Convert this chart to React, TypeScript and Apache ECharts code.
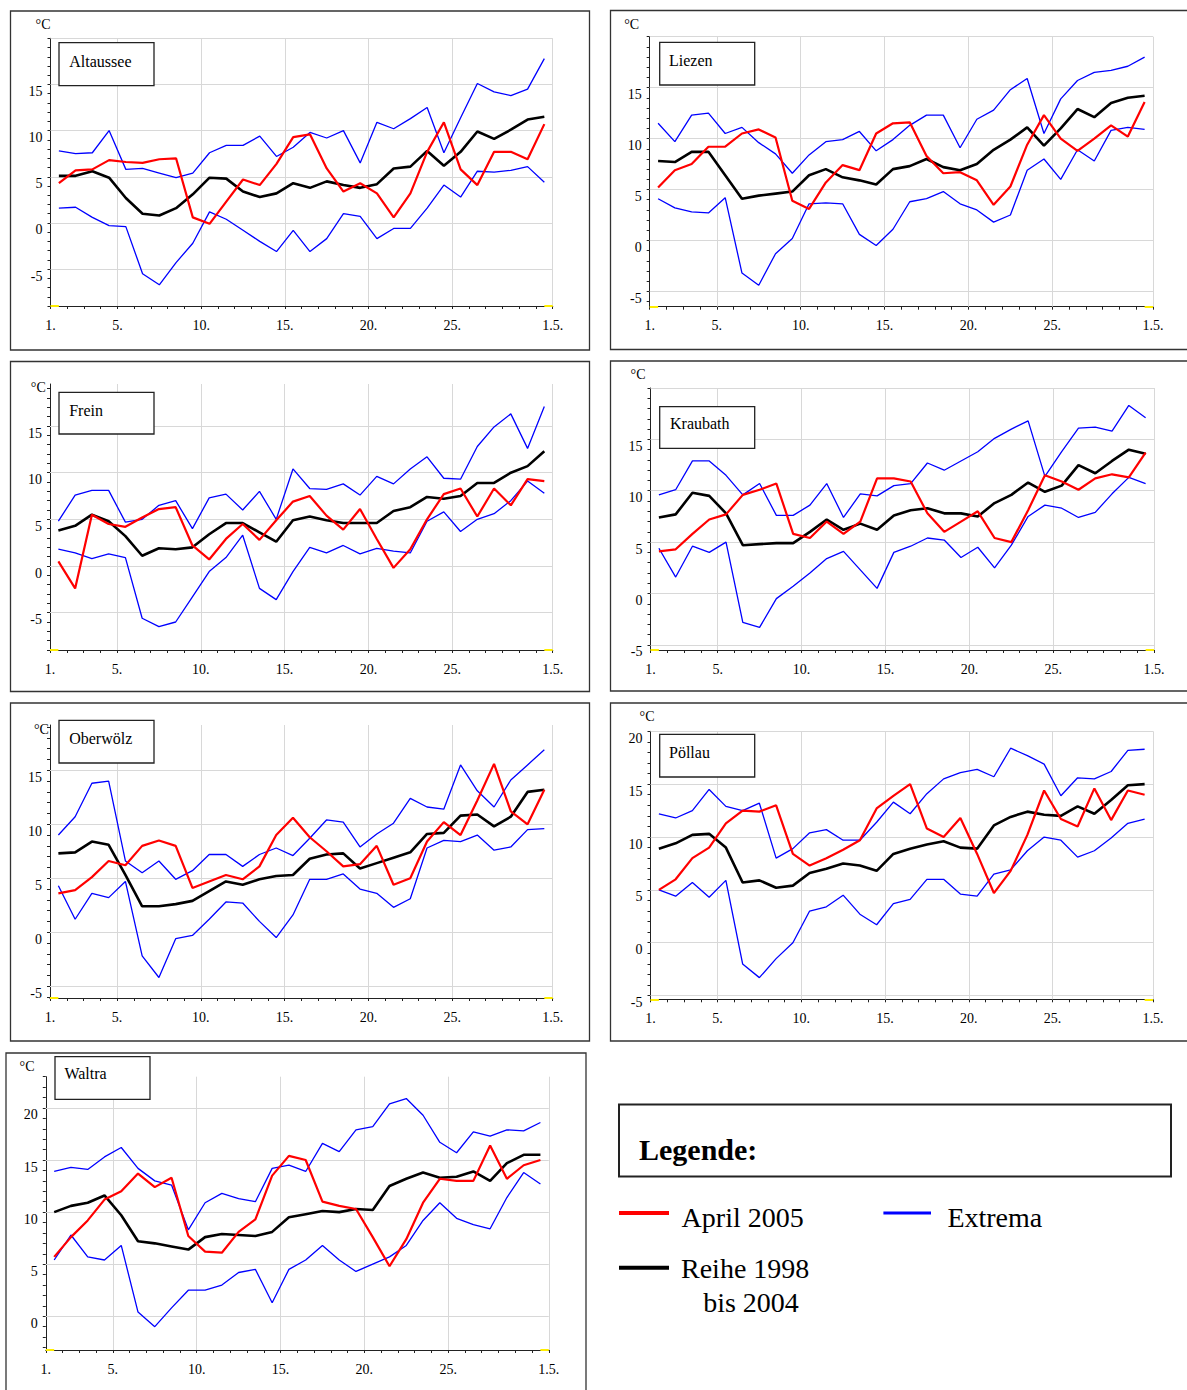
import React, { useEffect, useRef } from "react";
import * as echarts from "echarts";

// ---------- DATA ----------
const days = [1.5, 2.5, 3.5, 4.5, 5.5, 6.5, 7.5, 8.5, 9.5, 10.5, 11.5, 12.5, 13.5, 14.5, 15.5, 16.5, 17.5, 18.5, 19.5, 20.5, 21.5, 22.5, 23.5, 24.5, 25.5, 26.5, 27.5, 28.5, 29.5, 30.5];
const xTickValues = [1, 5, 10, 15, 20, 25, 31];
const xTickLabels = ["1.", "5.", "10.", "15.", "20.", "25.", "1.5."];
const stationNames = ["Altaussee", "Liezen", "Frein", "Kraubath", "Oberwölz", "Pöllau", "Waltra"];
const unitLabel = "°C";

const altausseeMax = [7.8, 7.5, 7.6, 10.0, 5.8, 5.9, 5.4, 4.9, 5.4, 7.6, 8.4, 8.4, 9.4, 7.2, 8.2, 9.8, 9.2, 10.0, 6.5, 10.9, 10.2, 11.3, 12.5, 7.6, 11.4, 15.1, 14.2, 13.8, 14.5, 17.8];
const altausseeMin = [1.6, 1.7, 0.6, -0.3, -0.4, -5.5, -6.7, -4.3, -2.2, 1.2, 0.4, -0.8, -2.0, -3.1, -0.8, -3.1, -1.7, 1.0, 0.7, -1.7, -0.6, -0.6, 1.6, 4.1, 2.8, 5.6, 5.5, 5.7, 6.1, 4.4];
const altausseeReihe = [5.1, 5.1, 5.6, 4.9, 2.7, 1.0, 0.8, 1.6, 3.1, 4.9, 4.8, 3.4, 2.8, 3.2, 4.3, 3.8, 4.5, 4.1, 3.8, 4.2, 5.9, 6.1, 7.8, 6.2, 7.7, 9.9, 9.1, 10.1, 11.2, 11.5];
const altausseeApril = [4.3, 5.7, 5.8, 6.8, 6.6, 6.5, 6.9, 7.0, 0.6, -0.1, 2.3, 4.7, 4.1, 6.4, 9.3, 9.6, 5.9, 3.4, 4.3, 3.2, 0.6, 3.2, 7.7, 10.9, 5.8, 4.1, 7.7, 7.7, 6.9, 10.7];

const liezenMax = [11.5, 9.7, 12.3, 12.5, 10.5, 11.1, 9.6, 8.5, 6.6, 8.4, 9.7, 9.9, 10.7, 8.8, 9.9, 11.3, 12.3, 12.3, 9.1, 11.9, 12.8, 14.8, 15.9, 10.5, 13.9, 15.7, 16.5, 16.7, 17.1, 18.0];
const liezenMin = [4.1, 3.2, 2.8, 2.7, 4.2, -3.2, -4.4, -1.3, 0.2, 3.6, 3.7, 3.6, 0.6, -0.5, 1.1, 3.8, 4.1, 4.8, 3.6, 3.0, 1.8, 2.5, 6.9, 8.0, 6.0, 8.9, 7.8, 10.8, 11.1, 10.9];
const liezenReihe = [7.8, 7.7, 8.7, 8.7, 6.4, 4.1, 4.4, 4.6, 4.8, 6.4, 7.0, 6.2, 5.9, 5.5, 7.0, 7.3, 8.0, 7.2, 6.9, 7.5, 8.9, 9.9, 11.1, 9.3, 11.0, 12.9, 12.1, 13.5, 14.0, 14.2];
const liezenApril = [5.2, 6.9, 7.5, 9.2, 9.2, 10.5, 10.9, 10.1, 3.9, 3.1, 5.7, 7.4, 6.9, 10.5, 11.5, 11.6, 8.3, 6.6, 6.7, 5.9, 3.5, 5.3, 9.4, 12.3, 10.0, 8.8, 10.0, 11.3, 10.2, 13.6];

const freinMax = [4.8, 7.6, 8.1, 8.1, 4.7, 5.0, 6.5, 7.0, 4.0, 7.3, 7.7, 6.0, 8.0, 5.0, 10.4, 8.3, 8.2, 8.8, 7.6, 9.6, 8.8, 10.4, 11.7, 9.4, 9.3, 12.8, 14.9, 16.3, 12.6, 17.1];
const freinMin = [1.8, 1.4, 0.8, 1.3, 0.9, -5.6, -6.5, -6.0, -3.3, -0.6, 0.9, 3.3, -2.4, -3.6, -0.6, 2.0, 1.4, 2.2, 1.3, 1.9, 1.6, 1.4, 4.8, 5.8, 3.7, 5.0, 5.6, 7.0, 9.1, 7.8];
const freinReihe = [3.8, 4.3, 5.5, 4.8, 3.2, 1.1, 1.9, 1.8, 2.0, 3.4, 4.6, 4.6, 3.6, 2.6, 4.9, 5.3, 4.9, 4.6, 4.6, 4.6, 5.9, 6.3, 7.4, 7.2, 7.5, 8.9, 8.9, 10.0, 10.7, 12.3];
const freinApril = [0.5, -2.4, 5.5, 4.5, 4.2, 5.2, 6.1, 6.3, 2.2, 0.7, 2.9, 4.5, 2.8, 4.9, 6.9, 7.5, 5.4, 3.9, 6.1, 2.9, -0.2, 1.8, 5.0, 7.7, 8.3, 5.3, 8.3, 6.5, 9.3, 9.1];

const kraubathMax = [9.6, 10.1, 12.9, 12.9, 11.5, 9.6, 10.7, 7.6, 7.6, 8.6, 10.7, 7.4, 9.7, 9.5, 10.5, 10.7, 12.7, 12.0, 12.9, 13.8, 15.1, 16.0, 16.8, 11.4, 13.8, 16.1, 16.2, 15.8, 18.3, 17.1];
const kraubathMin = [4.4, 1.6, 4.6, 4.0, 5.0, -2.8, -3.3, -0.5, 0.7, 2.0, 3.4, 4.1, 2.3, 0.5, 4.0, 4.6, 5.4, 5.2, 3.5, 4.5, 2.5, 4.7, 7.5, 8.6, 8.3, 7.4, 7.9, 9.7, 11.3, 10.7];
const kraubathReihe = [7.4, 7.7, 9.8, 9.5, 7.8, 4.7, 4.8, 4.9, 4.9, 6.0, 7.2, 6.2, 6.8, 6.2, 7.6, 8.1, 8.3, 7.8, 7.8, 7.5, 8.8, 9.6, 10.8, 9.9, 10.5, 12.5, 11.7, 12.9, 14.0, 13.6];
const kraubathApril = [4.1, 4.3, 5.8, 7.2, 7.7, 9.6, 10.1, 10.7, 5.8, 5.4, 7.0, 5.8, 7.0, 11.2, 11.2, 10.9, 7.8, 6.0, 7.0, 8.0, 5.4, 5.0, 8.1, 11.5, 10.9, 10.1, 11.2, 11.6, 11.3, 13.7];

const oberwoelzMax = [9.0, 10.7, 13.8, 14.0, 6.6, 5.5, 6.6, 4.9, 5.7, 7.2, 7.2, 6.1, 7.2, 7.8, 7.1, 8.7, 10.4, 10.2, 7.9, 9.1, 10.1, 12.4, 11.6, 11.4, 15.5, 13.1, 11.6, 14.1, 15.5, 16.9];
const oberwoelzMin = [4.3, 1.2, 3.6, 3.2, 4.7, -2.2, -4.2, -0.6, -0.3, 1.2, 2.8, 2.7, 1.0, -0.5, 1.6, 4.9, 4.9, 5.4, 4.0, 3.6, 2.3, 3.1, 7.8, 8.5, 8.4, 9.0, 7.6, 7.9, 9.5, 9.6];
const oberwoelzReihe = [7.3, 7.4, 8.4, 8.1, 5.3, 2.4, 2.4, 2.6, 2.9, 3.8, 4.7, 4.4, 4.9, 5.2, 5.3, 6.8, 7.2, 7.3, 5.9, 6.4, 6.9, 7.4, 9.1, 9.2, 10.8, 10.9, 9.8, 10.7, 13.0, 13.2];
const oberwoelzApril = [3.6, 3.9, 5.1, 6.6, 6.2, 8.0, 8.5, 8.0, 4.1, 4.7, 5.3, 4.9, 6.1, 9.0, 10.6, 8.8, 7.5, 6.1, 6.3, 8.0, 4.4, 5.0, 8.4, 10.2, 9.0, 12.2, 15.6, 11.2, 10.0, 13.2];

const poellauMax = [12.2, 11.8, 12.5, 14.5, 12.9, 12.5, 13.2, 8.0, 8.9, 10.4, 10.7, 9.7, 9.7, 11.4, 13.3, 12.2, 14.1, 15.5, 16.1, 16.4, 15.7, 18.4, 17.7, 16.9, 13.9, 15.6, 15.5, 16.2, 18.2, 18.3];
const poellauMin = [5.0, 4.4, 5.7, 4.3, 5.9, -2.0, -3.3, -1.5, 0.0, 3.0, 3.4, 4.5, 2.7, 1.7, 3.7, 4.1, 6.0, 6.0, 4.6, 4.4, 6.5, 6.9, 8.7, 10.0, 9.7, 8.1, 8.7, 9.9, 11.3, 11.7];
const poellauReihe = [8.9, 9.4, 10.2, 10.3, 9.0, 5.7, 5.9, 5.2, 5.4, 6.6, 7.0, 7.5, 7.3, 6.8, 8.4, 8.9, 9.3, 9.6, 9.0, 8.9, 11.1, 11.9, 12.4, 12.1, 12.0, 12.9, 12.2, 13.5, 14.9, 15.0];
const poellauApril = [5.0, 6.0, 8.0, 9.0, 11.3, 12.5, 12.4, 13.0, 8.4, 7.3, 8.0, 8.8, 9.7, 12.7, 13.9, 15.0, 10.8, 10.0, 11.8, 8.4, 4.7, 6.8, 10.2, 14.4, 11.7, 11.0, 14.6, 11.6, 14.4, 14.0];

const waltraMax = [13.9, 14.3, 14.1, 15.3, 16.2, 14.2, 13.0, 12.6, 8.3, 10.9, 11.8, 11.3, 11.0, 14.2, 14.5, 13.9, 16.6, 15.8, 17.9, 18.2, 20.4, 20.9, 19.3, 16.7, 15.7, 17.7, 17.3, 17.9, 17.8, 18.6];
const waltraMin = [5.4, 7.8, 5.7, 5.4, 6.8, 0.4, -1.0, 0.8, 2.5, 2.5, 3.0, 4.2, 4.5, 1.3, 4.5, 5.4, 6.8, 5.4, 4.3, 5.0, 5.7, 6.8, 9.2, 10.9, 9.4, 8.8, 8.4, 11.4, 13.8, 12.7];
const waltraReihe = [10.0, 10.6, 10.9, 11.6, 9.7, 7.2, 7.0, 6.7, 6.4, 7.6, 7.9, 7.8, 7.7, 8.1, 9.5, 9.8, 10.1, 10.0, 10.3, 10.2, 12.5, 13.2, 13.8, 13.3, 13.4, 13.9, 13.0, 14.7, 15.5, 15.5];
const waltraApril = [5.7, 7.6, 9.2, 11.2, 12.0, 13.7, 12.4, 13.3, 7.7, 6.2, 6.1, 8.1, 9.3, 13.5, 15.4, 15.0, 11.0, 10.6, 10.3, 7.6, 4.8, 7.4, 10.9, 13.2, 13.0, 13.0, 16.4, 13.2, 14.5, 15.0];

const maxSeries = [altausseeMax, liezenMax, freinMax, kraubathMax, oberwoelzMax, poellauMax, waltraMax];
const minSeries = [altausseeMin, liezenMin, freinMin, kraubathMin, oberwoelzMin, poellauMin, waltraMin];
const reiheSeries = [altausseeReihe, liezenReihe, freinReihe, kraubathReihe, oberwoelzReihe, poellauReihe, waltraReihe];
const aprilSeries = [altausseeApril, liezenApril, freinApril, kraubathApril, oberwoelzApril, poellauApril, waltraApril];

const yAxisMin = [-9, -6.5, -9, -5.5, -6.1, -5.35, -3.24];
const yAxisMax = [20, 20, 19.5, 20, 19.2, 20, 23];
const yTickLabelValues = [
  [-5, 0, 5, 10, 15],
  [-5, 0, 5, 10, 15],
  [-5, 0, 5, 10, 15],
  [-5, 0, 5, 10, 15],
  [-5, 0, 5, 10, 15],
  [-5, 0, 5, 10, 15, 20],
  [0, 5, 10, 15, 20],
];

const legendTitle = "Legende:";
const legendApril = "April 2005";
const legendExtrema = "Extrema";
const legendReihe1 = "Reihe 1998";
const legendReihe2 = "bis 2004";

// ---------- LAYOUT (positions, sizes) ----------
const layout = [
  { grid: [50.5, 38.3, 502.2, 267.7], frame: [10.5, 11, 579, 339], box: [59, 42.7, 95, 43], name: [69.3, 61], unit: [43, 24] },
  { grid: [649.7, 36.7, 503.3, 270], frame: [610.5, 10.5, 580, 339], box: [659.7, 42.3, 95, 42.7], name: [669, 60], unit: [631.7, 24] },
  { grid: [50, 384, 502.7, 266], frame: [10.5, 361.5, 579, 330], box: [59, 392.3, 95, 41.7], name: [69.2, 410], unit: [38.3, 387.6] },
  { grid: [650.5, 388, 503.5, 262], frame: [610.5, 361, 580, 330], box: [659.7, 406.7, 95, 41.6], name: [670, 423.3], unit: [638, 374.6] },
  { grid: [50, 725, 502.7, 273], frame: [10.5, 703, 579, 338], box: [59, 720.3, 95, 42.7], name: [69.2, 738], unit: [41.4, 729.6] },
  { grid: [650.5, 731.3, 502.5, 268], frame: [610.5, 703, 580, 338], box: [659.7, 734.3, 95, 42.7], name: [669, 752.7], unit: [647, 716.6] },
  { grid: [45.8, 1076.7, 503, 273.3], frame: [6, 1053, 580, 400], box: [55, 1056.7, 95, 42.6], name: [64.4, 1073.3], unit: [27, 1066] },
];

const FONT = '"Liberation Serif", "Times New Roman", serif';
const RED = "#ff0000";
const BLUE = "#0000ff";
const BLACK = "#000000";

function buildOption() {
  const grids: any[] = [];
  const xAxes: any[] = [];
  const yAxes: any[] = [];
  const series: any[] = [];
  const graphic: any[] = [];

  stationNames.forEach((name, i) => {
    const L = layout[i];
    const ymin = yAxisMin[i];
    const ymax = yAxisMax[i];
    grids.push({
      left: L.grid[0], top: L.grid[1], width: L.grid[2], height: L.grid[3],
      containLabel: false, outerBoundsMode: "none", show: false,
    });
    const dayTicks: number[] = [];
    for (let d = 1; d <= 31; d++) dayTicks.push(d);
    const yTicks: number[] = [];
    for (let v = Math.ceil(ymin); v <= Math.floor(ymax); v++) yTicks.push(v);
    const gridYs: number[] = [];
    for (let v = Math.ceil(ymin / 5) * 5; v <= ymax + 1e-9; v += 5) gridYs.push(v);

    xAxes.push({
      type: "value", gridIndex: i, min: 1, max: 31,
      axisLine: { show: true, onZero: false, lineStyle: { color: "#222", width: 1.2 } },
      axisTick: { show: true, customValues: dayTicks, length: 3, lineStyle: { color: "#222", width: 1 } },
      axisLabel: {
        show: true, customValues: xTickValues, margin: 12,
        formatter: (v: number) => { const k = xTickValues.indexOf(Math.round(v)); return k >= 0 ? xTickLabels[k] : ""; },
        fontFamily: FONT, fontSize: 14, color: "#000",
      },
      splitLine: { show: false },
    });
    yAxes.push({
      type: "value", gridIndex: i, min: ymin, max: ymax, position: "left",
      axisLine: { show: true, onZero: false, lineStyle: { color: "#222", width: 1 } },
      axisTick: { show: true, customValues: yTicks, length: 3, lineStyle: { color: "#222", width: 1 } },
      axisLabel: {
        show: true, customValues: yTickLabelValues[i], margin: 8, verticalAlign: "top", align: "right",
        formatter: (v: number) => String(Math.round(v)),
        fontFamily: FONT, fontSize: 14, color: "#000",
      },
      splitLine: { show: false },
    });

    // gridlines carrier
    series.push({
      type: "line", xAxisIndex: i, yAxisIndex: i, data: [[1, ymin]], symbol: "none", silent: true,
      lineStyle: { opacity: 0 },
      markLine: {
        silent: true, symbol: "none", z: 1, label: { show: false },
        lineStyle: { color: "#d8d8d8", width: 1, type: "solid" },
        emphasis: { disabled: true },
        data: [
          ...xTickValues.filter((v) => v !== 1).map((v) => ({ xAxis: v })),
          ...gridYs.map((v) => ({ yAxis: v })),
        ],
      },
    });
    const toPts = (arr: number[]) => days.map((d, j) => [d, arr[j]]);
    series.push({ name: legendExtrema, type: "line", xAxisIndex: i, yAxisIndex: i, data: toPts(maxSeries[i]), symbol: "none", lineStyle: { color: BLUE, width: 1.3 }, itemStyle: { color: BLUE }, silent: true });
    series.push({ name: legendExtrema, type: "line", xAxisIndex: i, yAxisIndex: i, data: toPts(minSeries[i]), symbol: "none", lineStyle: { color: BLUE, width: 1.3 }, itemStyle: { color: BLUE }, silent: true });
    series.push({ name: legendReihe1, type: "line", xAxisIndex: i, yAxisIndex: i, data: toPts(reiheSeries[i]), symbol: "none", lineStyle: { color: BLACK, width: 2.6 }, itemStyle: { color: BLACK }, silent: true });
    series.push({ name: legendApril, type: "line", xAxisIndex: i, yAxisIndex: i, data: toPts(aprilSeries[i]), symbol: "none", lineStyle: { color: RED, width: 2.2 }, itemStyle: { color: RED }, silent: true });
    // yellow corner marks on x axis
    series.push({
      type: "line", xAxisIndex: i, yAxisIndex: i, data: [[1, ymin]], symbol: "none", silent: true,
      lineStyle: { opacity: 0 },
      markLine: {
        silent: true, symbol: "none", z: 6, label: { show: false },
        lineStyle: { color: "#ffee00", width: 2, type: "solid" },
        emphasis: { disabled: true },
        data: [
          [{ coord: [1, ymin] }, { coord: [1.5, ymin] }],
          [{ coord: [30.5, ymin] }, { coord: [31, ymin] }],
        ],
      },
    });

    // frame
    graphic.push({
      type: "rect", z: 0, silent: true,
      shape: { x: L.frame[0], y: L.frame[1], width: L.frame[2], height: L.frame[3] },
      style: { fill: "none", stroke: "#333", lineWidth: 1.3 },
    });
    // name box
    graphic.push({
      type: "rect", z: 100, silent: true,
      shape: { x: L.box[0], y: L.box[1], width: L.box[2], height: L.box[3] },
      style: { fill: "#fff", stroke: "#222", lineWidth: 1.3 },
    });
    graphic.push({
      type: "text", z: 101, silent: true, x: L.name[0], y: L.name[1],
      style: { text: name, fontFamily: FONT, fontSize: 16, fill: "#000", textAlign: "left", align: "left", textVerticalAlign: "middle", verticalAlign: "middle" },
    });
    graphic.push({
      type: "text", z: 101, silent: true, x: L.unit[0], y: L.unit[1],
      style: { text: unitLabel, fontFamily: FONT, fontSize: 14, fill: "#000", textAlign: "center", align: "center", textVerticalAlign: "middle", verticalAlign: "middle" },
    });
  });

  // legend block
  const t = (text: string, x: number, y: number, size: number, align = "left", weight = "normal") => ({
    type: "text", z: 101, silent: true, x, y,
    style: { text, fontFamily: FONT, fontSize: size, fontWeight: weight, fill: "#000", textAlign: align, align, textVerticalAlign: "middle", verticalAlign: "middle" },
  });
  graphic.push({
    type: "rect", z: 100, silent: true,
    shape: { x: 619, y: 1104.5, width: 552, height: 72 },
    style: { fill: "#fff", stroke: "#222", lineWidth: 2 },
  });
  graphic.push(t(legendTitle, 639, 1149.5, 30, "left", "bold"));
  graphic.push({ type: "line", z: 101, silent: true, shape: { x1: 619, y1: 1213, x2: 669, y2: 1213 }, style: { stroke: RED, lineWidth: 4 } });
  graphic.push(t(legendApril, 681.6, 1217, 28));
  graphic.push({ type: "line", z: 101, silent: true, shape: { x1: 883.4, y1: 1213, x2: 931, y2: 1213 }, style: { stroke: BLUE, lineWidth: 3 } });
  graphic.push(t(legendExtrema, 947.4, 1217, 28));
  graphic.push({ type: "line", z: 101, silent: true, shape: { x1: 619, y1: 1267.7, x2: 669, y2: 1267.7 }, style: { stroke: BLACK, lineWidth: 4 } });
  graphic.push(t(legendReihe1, 681, 1268, 28));
  graphic.push(t(legendReihe2, 751, 1302, 28, "center"));

  return {
    animation: false,
    backgroundColor: "#ffffff",
    textStyle: { fontFamily: FONT },
    grid: grids,
    xAxis: xAxes,
    yAxis: yAxes,
    series,
    graphic: { elements: graphic },
  };
}

export default function App() {
  const ref = useRef<HTMLDivElement>(null);
  useEffect(() => {
    if (!ref.current) return;
    const chart = echarts.init(ref.current, null, { renderer: "svg" });
    chart.setOption(buildOption() as any);
    return () => chart.dispose();
  }, []);
  return (
    <div
      ref={ref}
      style={{ position: "absolute", left: 0, top: 0, width: 1187, height: 1390, background: "#fff" }}
    />
  );
}
